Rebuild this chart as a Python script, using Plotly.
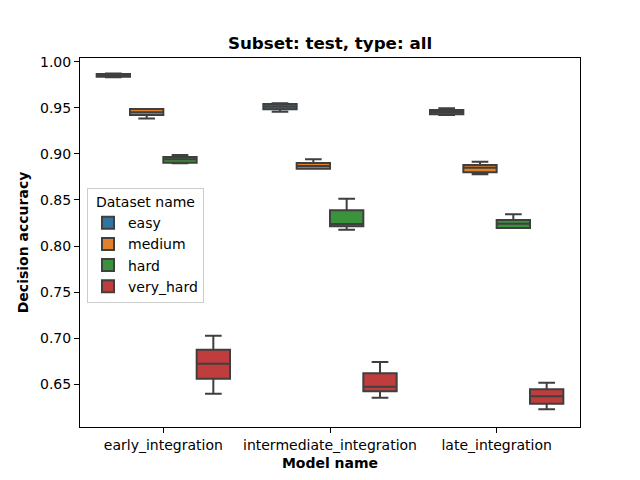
import plotly.graph_objects as go

models = ["early_integration", "intermediate_integration", "late_integration"]
datasets = ["easy", "medium", "hard", "very_hard"]
colors = ["#3274a1", "#e1812c", "#3a923a", "#c03d3e"]

# per dataset: values for [early, intermediate, late]
lower = {
    "easy":      [0.9835, 0.9460, 0.9424],
    "medium":    [0.9386, 0.8840, 0.8780],
    "hard":      [0.8900, 0.8177, 0.8196],
    "very_hard": [0.6395, 0.6351, 0.6225],
}
q1 = {
    "easy":      [0.9840, 0.9486, 0.9432],
    "medium":    [0.9424, 0.8840, 0.8801],
    "hard":      [0.8905, 0.8214, 0.8196],
    "very_hard": [0.6558, 0.6421, 0.6286],
}
median = {
    "easy":      [0.9855, 0.9515, 0.9455],
    "medium":    [0.9453, 0.8870, 0.8851],
    "hard":      [0.8942, 0.8239, 0.8242],
    "very_hard": [0.6721, 0.6471, 0.6366],
}
q3 = {
    "easy":      [0.9870, 0.9543, 0.9478],
    "medium":    [0.9489, 0.8902, 0.8880],
    "hard":      [0.8967, 0.8388, 0.8283],
    "very_hard": [0.6873, 0.6616, 0.6442],
}
upper = {
    "easy":      [0.9875, 0.9551, 0.9496],
    "medium":    [0.9489, 0.8942, 0.8916],
    "hard":      [0.8990, 0.8514, 0.8345],
    "very_hard": [0.7025, 0.6739, 0.6514],
}

fig = go.Figure()
for d, c in zip(datasets, colors):
    fig.add_trace(go.Box(
        name=d,
        x=models,
        q1=q1[d], median=median[d], q3=q3[d],
        lowerfence=lower[d], upperfence=upper[d],
        fillcolor=c,
        line=dict(color="#3f3f3f", width=2),
        whiskerwidth=0.5,
        boxpoints=False,
        hoverinfo="skip",
    ))

font = "DejaVu Sans"
fig.update_layout(
    width=640, height=480,
    margin=dict(l=80, r=60, t=58, b=53),
    paper_bgcolor="white", plot_bgcolor="white",
    boxmode="group", boxgap=0.2, boxgroupgap=0,
    font=dict(family=font, size=14, color="black"),
    title=dict(text="<b>Subset: test, type: all</b>", x=0.5, xanchor="center",
               xref="paper", y=1 - 43 / 480, yanchor="middle",
               font=dict(family=font, size=16.7, color="black")),
    legend=dict(
        title=dict(text="Dataset name", font=dict(size=14), side="top center"),
        x=0.014, y=0.648, xanchor="left", yanchor="top",
        bordercolor="#cccccc", borderwidth=1, bgcolor="rgba(255,255,255,0.8)",
        font=dict(size=14), tracegroupgap=1,
    ),
    showlegend=True,
)
fig.update_xaxes(
    type="category", range=[-0.5, 2.5],
    showline=True, linecolor="black", linewidth=1, mirror=True,
    ticks="outside", ticklen=5, tickcolor="black", showgrid=False,
    title=dict(text="<b>Model name</b>", font=dict(size=14), standoff=6),
    tickfont=dict(size=14),
)
fig.update_yaxes(
    range=[0.6033, 1.0043],
    tickvals=[0.65, 0.70, 0.75, 0.80, 0.85, 0.90, 0.95, 1.00],
    ticktext=["0.65", "0.70", "0.75", "0.80", "0.85", "0.90", "0.95", "1.00"],
    showline=True, linecolor="black", linewidth=1, mirror=True,
    ticks="outside", ticklen=5, tickcolor="black", showgrid=False, zeroline=False,
    title=dict(text="<b>Decision accuracy</b>", font=dict(size=14), standoff=8),
    tickfont=dict(size=14),
)
fig.write_html("out.html")
